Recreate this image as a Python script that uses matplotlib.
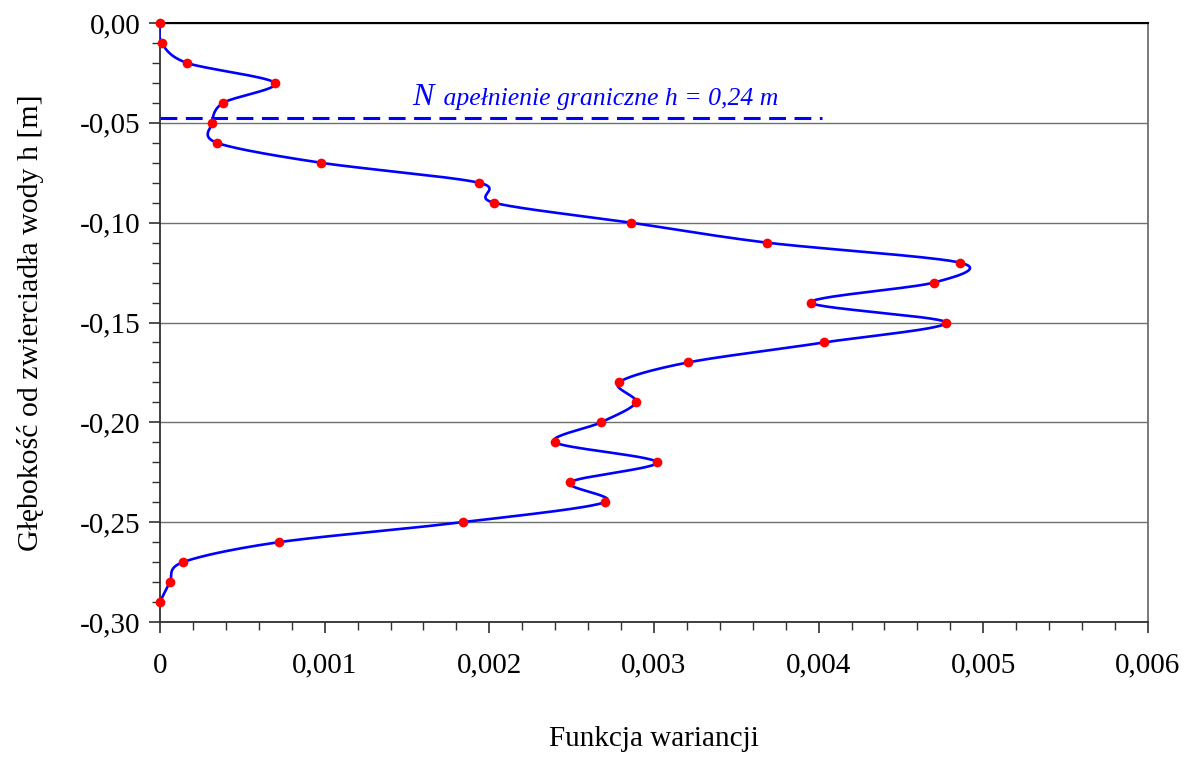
import numpy as np
import matplotlib
matplotlib.use("Agg")
import matplotlib.pyplot as plt
from matplotlib.ticker import MultipleLocator, FuncFormatter

# Variance function vs. depth below water surface
depth = [0.00, -0.01, -0.02, -0.03, -0.04, -0.05, -0.06, -0.07, -0.08, -0.09,
         -0.10, -0.11, -0.12, -0.13, -0.14, -0.15, -0.16, -0.17, -0.18, -0.19,
         -0.20, -0.21, -0.22, -0.23, -0.24, -0.25, -0.26, -0.27, -0.28, -0.29]
variance = [0.0, 0.00001, 0.000164, 0.000698, 0.000383, 0.000316, 0.000346,
            0.000978, 0.001937, 0.002028, 0.00286, 0.003686, 0.004858, 0.0047,
            0.003953, 0.004773, 0.004032, 0.003206, 0.002787, 0.00289, 0.002678,
            0.002398, 0.003018, 0.00249, 0.002702, 0.00184, 0.000723, 0.00014,
            0.00006, 0.0]

limit_depth = -0.0475
limit_x_end = 0.00402
limit_label = "apełnienie graniczne h = 0,24 m"


def smooth(xs, ys, n=30, k=6.5):
    """Cubic Bezier smoothing through all points (Catmull-Rom style)."""
    p = np.column_stack([xs, ys])
    p_ext = np.vstack([p[0], p, p[-1]])
    out = []
    for i in range(1, len(p_ext) - 2):
        p0, p1, p2, p3 = p_ext[i - 1], p_ext[i], p_ext[i + 1], p_ext[i + 2]
        c1 = p1 + (p2 - p0) / k
        c2 = p2 - (p3 - p1) / k
        t = np.linspace(0, 1, n)[:, None]
        seg = ((1 - t) ** 3) * p1 + 3 * ((1 - t) ** 2) * t * c1 \
            + 3 * (1 - t) * t ** 2 * c2 + t ** 3 * p2
        out.append(seg if i == 1 else seg[1:])
    out = np.vstack(out)
    return out[:, 0], out[:, 1]


plt.rcParams["font.family"] = ["Liberation Serif", "DejaVu Serif"]

fig = plt.figure(figsize=(11.87, 7.62), dpi=100)
ax = fig.add_axes([0.1348, 0.1837, 0.8323, 0.7861])

sx, sy = smooth(variance, depth)
ax.plot(sx, sy, color="#0000ff", lw=1.9, zorder=3)
ax.plot(variance, depth, "o", color="#ff0000", ms=7, mec="none", zorder=4, clip_on=False)

ax.plot([0, limit_x_end], [limit_depth, limit_depth], color="#0000ff", lw=2.2,
        dashes=(5.5, 2.8), zorder=3)
ax.text(0.00153, -0.0412, "N", color="#0000ff", fontsize=23, style="italic",
        ha="left", va="baseline")
ax.text(0.00168, -0.0412, " " + limit_label, color="#0000ff", fontsize=18.5,
        style="italic", ha="left", va="baseline")

ax.set_xlim(0, 0.006)
ax.set_ylim(-0.30, 0.0)
ax.xaxis.set_major_locator(MultipleLocator(0.001))
ax.xaxis.set_minor_locator(MultipleLocator(0.0002))
ax.yaxis.set_major_locator(MultipleLocator(0.05))
ax.yaxis.set_minor_locator(MultipleLocator(0.01))

ax.xaxis.set_major_formatter(FuncFormatter(
    lambda v, _: "0" if abs(v) < 1e-12 else f"{v:.3f}".replace(".", ",")))
ax.yaxis.set_major_formatter(FuncFormatter(
    lambda v, _: ("0,00" if abs(v) < 1e-12 else f"{v:.2f}".replace(".", ","))))

ax.grid(axis="y", which="major", color="#707070", lw=1.0)
ax.set_axisbelow(True)

for s in ["left", "bottom"]:
    ax.spines[s].set_color("#303030")
    ax.spines[s].set_linewidth(1.3)
ax.spines["top"].set_color("black")
ax.spines["top"].set_linewidth(1.5)
ax.spines["right"].set_color("#707070")
ax.spines["right"].set_linewidth(1.3)

ax.tick_params(axis="both", which="major", direction="out", length=8, width=1.2,
               labelsize=21, color="#303030")
ax.tick_params(axis="both", which="minor", direction="out", length=6, width=1.0,
               color="#303030")
ax.tick_params(axis="x", which="major", pad=14)
ax.tick_params(axis="y", which="major", pad=6)

ax.set_xlabel("Funkcja wariancji", fontsize=21, labelpad=34)
ax.set_ylabel("Głębokość od zwierciadła wody h [m]", fontsize=21.5, labelpad=26)

fig.savefig("out.png", dpi=100)
